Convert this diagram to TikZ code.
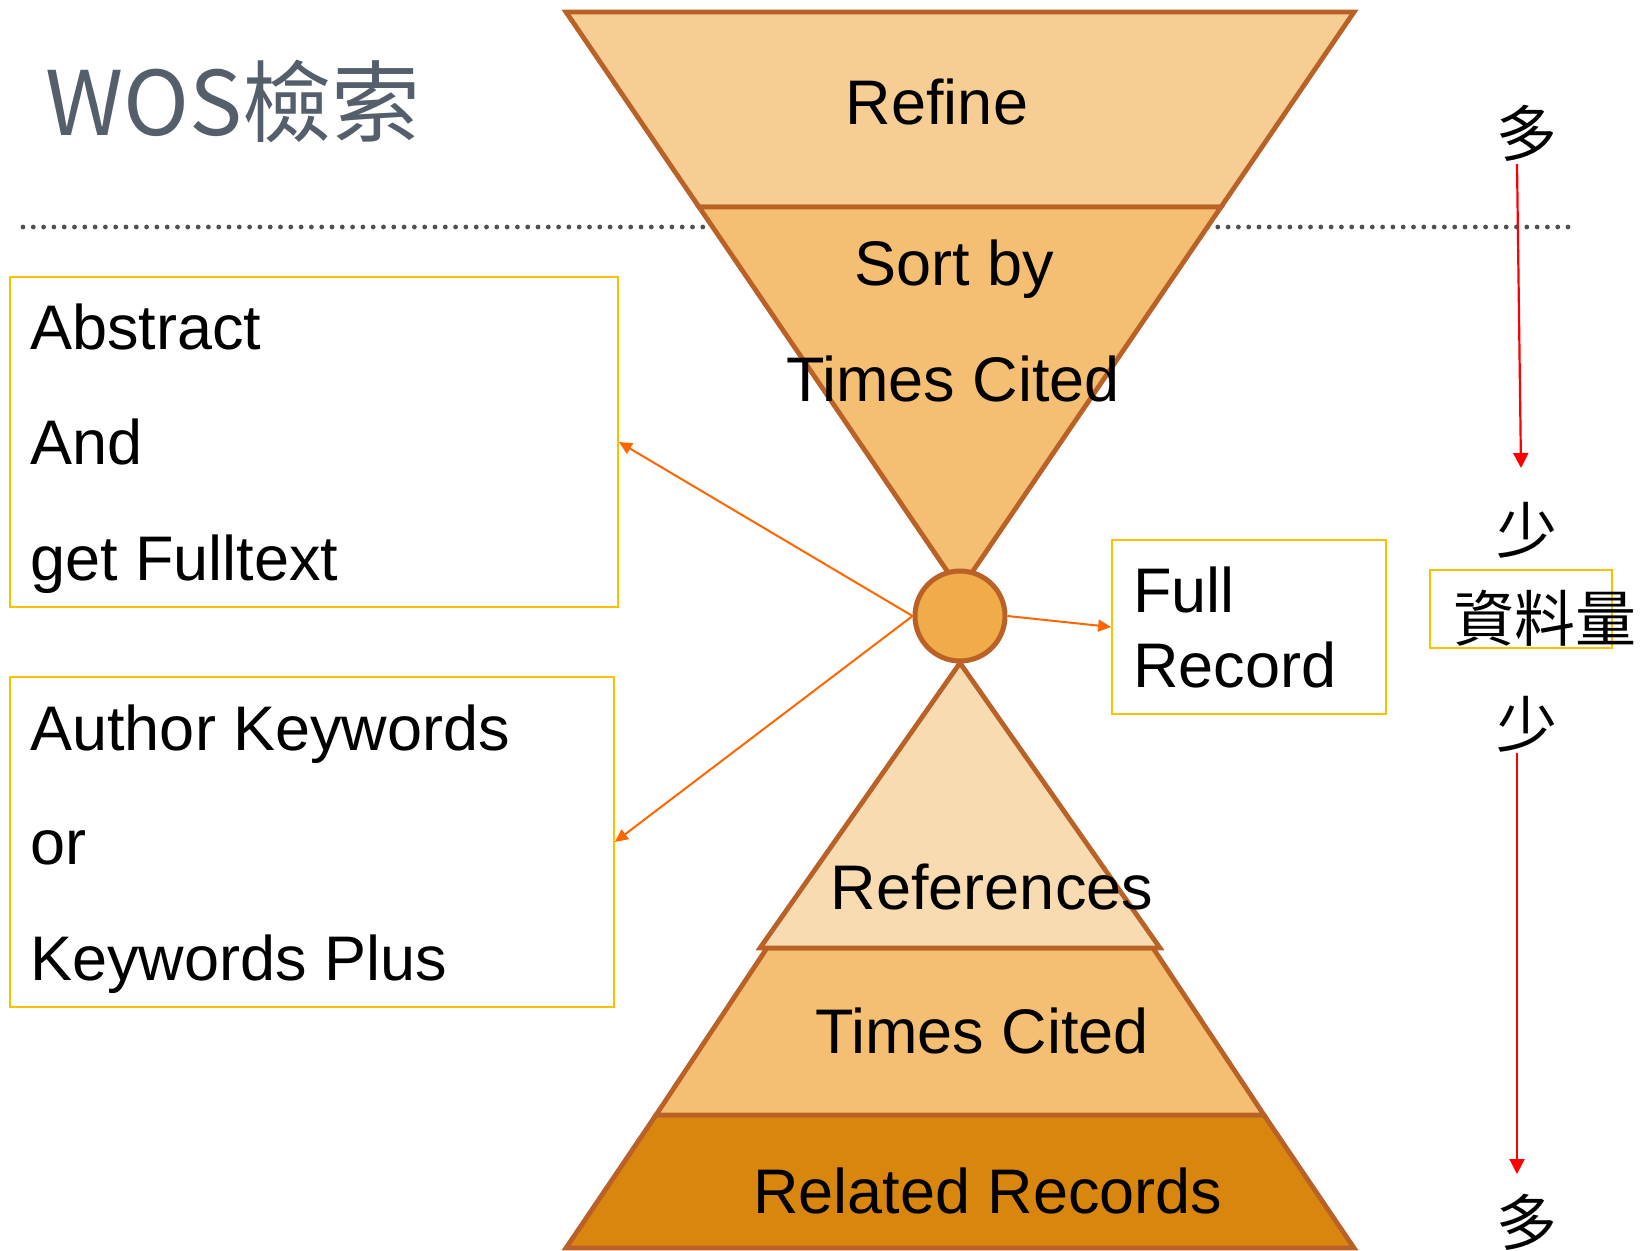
\documentclass[tikz,border=0pt]{standalone}
\usepackage{fontspec}
\setmainfont{Liberation Sans}
\newfontfamily\cjk{Noto Sans CJK TC}
\usetikzlibrary{arrows.meta}
\definecolor{refinefill}{HTML}{F6CD92}
\definecolor{sortfill}{HTML}{F4BF72}
\definecolor{hubfill}{HTML}{F0AC48}
\definecolor{reffill}{HTML}{F8DBB0}
\definecolor{relfill}{HTML}{D9860F}
\definecolor{edgecol}{HTML}{BA6127}
\definecolor{boxline}{HTML}{FFC000}
\definecolor{arrcol}{HTML}{FF6600}
\definecolor{titlecol}{HTML}{555E6B}
\definecolor{dotcol}{HTML}{505050}
\tikzset{
  layer/.style={draw=edgecol, line width=2.4pt, line join=miter},
  lbl/.style={font=\fontsize{31.5}{38}\selectfont, inner sep=0pt, text=black},
  cjklbl/.style={font=\cjk\fontsize{30.5}{36}\selectfont, inner sep=0pt, text=black},
  ybox/.style={draw=boxline, line width=0.9pt, fill=none, inner sep=0pt, rectangle},
  oarrow/.style={draw=arrcol, line width=1pt, -{Triangle[length=6.5pt,width=6pt]}},
  rarrow/.style={draw=red, line width=1.1pt, -{Triangle[length=7.5pt,width=7.5pt]}},
  dotline/.style={draw=dotcol, line width=2.4pt, line cap=round, dash pattern=on 0pt off 5.15pt}
}
\begin{document}
\begin{tikzpicture}[x=0.5pt,y=-0.5pt]
\useasboundingbox (0,0) rectangle (1652,1251);
% dotted separator (behind funnel)
\coordinate (dl) at (23,227);
\coordinate (dr) at (1568,227);
\draw[dotline] (dl) -- (dr);
% top funnel
\filldraw[layer, fill=refinefill] (566,12) -- (1354,12) -- (1221,207) -- (699,207) -- cycle;
\filldraw[layer, fill=sortfill] (699,207) -- (1221,207) -- (960,590) -- cycle;
% bottom pyramid
\filldraw[layer, fill=relfill] (656,1115) -- (1264,1115) -- (1354,1248) -- (566,1248) -- cycle;
\filldraw[layer, fill=sortfill] (767,948) -- (1153,948) -- (1264,1115) -- (656,1115) -- cycle;
\filldraw[layer, fill=reffill] (960,663) -- (1160,948) -- (760,948) -- cycle;
% hub circle
\node[circle, draw=edgecol, line width=2.5pt, fill=hubfill, minimum size=45pt, inner sep=0pt] (hub) at (960,616) {};
% boxes
\node[ybox, minimum width=304pt, minimum height=165pt] (box1) at (314,442) {};
\node[ybox, minimum width=302pt, minimum height=165pt] (box2) at (312,842) {};
\node[ybox, minimum width=137pt, minimum height=87pt] (full) at (1249,627) {};
\node[ybox, minimum width=91pt, minimum height=39pt] (qbox) at (1521,609) {};
% connectors
\draw[oarrow] (hub.west) -- (box1.east);
\draw[oarrow] (hub.west) -- (box2.east);
\draw[oarrow] (hub.east) -- (full.west);
% red arrows
\coordinate (r1s) at (1517,164);
\coordinate (r1e) at (1521,468);
\coordinate (r2s) at (1517,753);
\coordinate (r2e) at (1517,1174);
\draw[rarrow] (r1s) -- (r1e);
\draw[rarrow] (r2s) -- (r2e);
% title
\node[inner sep=0pt, anchor=base west, text=titlecol, font=\cjk\fontsize{44.5}{50}\selectfont] (title) at (45,136) {WOS檢索};
% funnel labels
\node[lbl, anchor=base] (trefine) at (937,125) {Refine};
\node[lbl, anchor=base] (tsort) at (954,286) {Sort by};
\node[lbl, anchor=base] (ttc1) at (953,401) {Times Cited};
\node[lbl, anchor=base] (tref) at (992,909) {References};
\node[lbl, anchor=base] (ttc2) at (982,1053) {Times Cited};
\node[lbl, anchor=base] (trel) at (988,1213) {Related Records};
% box texts
\node[lbl, anchor=base west] (a1) at (30,350) {Abstract};
\node[lbl, anchor=base west] (a2) at (30,464) {And};
\node[lbl, anchor=base west] (a3) at (30,580) {get Fulltext};
\node[lbl, anchor=base west] (k1) at (30,750) {Author Keywords};
\node[lbl, anchor=base west] (k2) at (30,864) {or};
\node[lbl, anchor=base west] (k3) at (30,980) {Keywords Plus};
\node[lbl, anchor=base west] (f1) at (1133,612) {Full};
\node[lbl, anchor=base west] (f2) at (1133,687) {Record};
% right side labels
\node[cjklbl, anchor=base] (duo1) at (1527,157) {多};
\node[cjklbl, anchor=base] (shao1) at (1527,553) {少};
\node[cjklbl, anchor=base] (qty) at (1545,641) {資料量};
\node[cjklbl, anchor=base] (shao2) at (1527,747) {少};
\node[cjklbl, anchor=base] (duo2) at (1527,1245) {多};
\end{tikzpicture}
\end{document}
